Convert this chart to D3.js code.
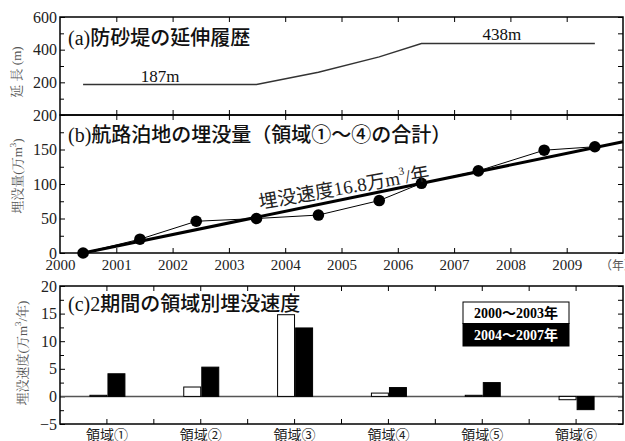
<!DOCTYPE html>
<html>
<head>
<meta charset="utf-8">
<script src="https://cdn.jsdelivr.net/npm/d3@7"></script>
<style>
  html, body { margin: 0; padding: 0; background: #fff; }
  svg { display: block; }
</style>
</head>
<body>
<svg id="chart" width="625" height="441"></svg>
<script>
// ---------------- data ----------------
// (a) breakwater length history
const jettyYears   = [2000.41, 2003.49, 2004.59, 2005.67, 2006.42, 2009.5];
const jettyLength  = [187, 187, 262, 356, 438, 438];
const jettyLabels  = ["187m", "438m"];

// (b) cumulative siltation volume (10^4 m3)
const surveyYears  = [2000.41, 2001.42, 2002.42, 2003.49, 2004.59, 2005.67, 2006.42, 2007.43, 2008.6, 2009.5];
const siltVolume   = [0, 20, 46, 50, 55, 76, 101, 119, 149, 154];
const trendRate    = 16.8;      // 万m3/年
const trendStart   = 2000.41;
const trendEnd     = 2010;

const yearTicks    = [2000, 2001, 2002, 2003, 2004, 2005, 2006, 2007, 2008, 2009];

// (c) siltation rate by area for two periods
const areas        = ["領域①", "領域②", "領域③", "領域④", "領域⑤", "領域⑥"];
const periods      = ["2000～2003年", "2004～2007年"];
const rateP1       = [0.2, 1.7, 14.8, 0.6, 0.2, -0.6];
const rateP2       = [4.1, 5.3, 12.4, 1.6, 2.5, -2.4];

// ---------------- fonts ----------------
const SERIF  = '"Liberation Serif", "Noto Sans CJK JP", serif';
const MINCHO = '"Liberation Serif", "Noto Serif CJK JP", serif';
const GOTH   = '"Noto Sans CJK JP", "Noto Sans", sans-serif';

// ---------------- layout ----------------
const svg = d3.select("#chart");
const L = 60, R = 623;
const A = {top: 17, bottom: 115};
const B = {top: 115, bottom: 253};
const C = {top: 286, bottom: 424};

const x = d3.scaleLinear().domain([2000, 2010]).range([L, R]);
const yA = d3.scaleLinear().domain([0, 600]).range([A.bottom, A.top]);
const yB = d3.scaleLinear().domain([0, 200]).range([B.bottom, B.top]);
const yC = d3.scaleLinear().domain([-5, 20]).range([C.bottom, C.top]);

const TICK = 5, MINOR = 4;

function styleAxis(g, size) {
  g.attr("font-family", null);
  g.select(".domain").remove();
  g.selectAll(".tick line").attr("stroke", "#000").attr("stroke-width", 1);
  g.selectAll("text").style("font-family", SERIF).attr("font-size", size || 15).attr("fill", "#222");
}

function yAxes(y, major, minor, fmt) {
  const gl = svg.append("g").attr("transform", `translate(${L},0)`)
    .call(d3.axisLeft(y).tickValues(major).tickSize(-TICK).tickPadding(3).tickFormat(fmt));
  styleAxis(gl, 16);
  const gm = svg.append("g").attr("transform", `translate(${L},0)`)
    .call(d3.axisLeft(y).tickValues(minor).tickSize(-MINOR).tickFormat(""));
  styleAxis(gm);
  const gr = svg.append("g").attr("transform", `translate(${R},0)`)
    .call(d3.axisRight(y).tickValues(major.concat(minor)).tickSize(-TICK).tickFormat(""));
  styleAxis(gr);
}

function xYearAxes(top, bottom, withLabels) {
  const gt = svg.append("g").attr("transform", `translate(0,${top})`)
    .call(d3.axisTop(x).tickValues(yearTicks.slice(1)).tickSize(-TICK).tickFormat(""));
  styleAxis(gt);
  const gb = svg.append("g").attr("transform", `translate(0,${bottom})`)
    .call(d3.axisBottom(x).tickValues(withLabels ? yearTicks : yearTicks.slice(1))
      .tickSize(-TICK).tickPadding(6).tickFormat(withLabels ? d3.format("d") : ""));
  styleAxis(gb, 15);
  if (withLabels) gb.selectAll(".tick").filter(d => d === 2000).select("line").remove();
}

function txt(family, size, fill) {
  return svg.append("text").style("font-family", family).attr("font-size", size).attr("fill", fill);
}

// ---------------- panel (a) ----------------
yAxes(yA, [200, 400, 600], [100, 300, 500], d3.format("d"));
xYearAxes(A.top, A.bottom, false);

const lineA = d3.line().x((d, i) => x(jettyYears[i])).y(d => yA(d));
svg.append("path").datum(jettyLength).attr("d", lineA)
  .attr("fill", "none").attr("stroke", "#333").attr("stroke-width", 1.4);

txt(SERIF, 17, "#111").attr("x", x(2001.78)).attr("y", yA(jettyLength[0]) - 2)
  .attr("text-anchor", "middle").text(jettyLabels[0]);
txt(SERIF, 17, "#111").attr("x", x(2007.85)).attr("y", yA(jettyLength[4]) - 3)
  .attr("text-anchor", "middle").text(jettyLabels[1]);

txt(SERIF, 20, "#111").attr("font-weight", 500).attr("x", 68).attr("y", 45).text("(a)防砂堤の延伸履歴");

txt(MINCHO, 13, "#555")
  .attr("transform", `translate(21,${(A.top + A.bottom) / 2 + 6}) rotate(-90)`)
  .attr("text-anchor", "middle").text("延 長 (m)");

// ---------------- panel (b) ----------------
yAxes(yB, [0, 50, 100, 150, 200], [25, 75, 125, 175], d3.format("d"));
xYearAxes(B.top, B.bottom, true);

// trend line
svg.append("line")
  .attr("x1", x(trendStart)).attr("y1", yB(0))
  .attr("x2", x(trendEnd)).attr("y2", yB(trendRate * (trendEnd - trendStart)))
  .attr("stroke", "#000").attr("stroke-width", 3);

const lineB = d3.line().x((d, i) => x(surveyYears[i])).y(d => yB(d));
svg.append("path").datum(siltVolume).attr("d", lineB)
  .attr("fill", "none").attr("stroke", "#000").attr("stroke-width", 1);

svg.selectAll("circle.pt").data(siltVolume).enter().append("circle")
  .attr("class", "pt")
  .attr("cx", (d, i) => x(surveyYears[i])).attr("cy", d => yB(d)).attr("r", 5.8)
  .attr("fill", "#000");

// trend label
const tl = txt(SERIF, 19, "#222").attr("transform", `translate(260,209) rotate(-10)`);
tl.append("tspan").text("埋没速度16.8万m");
tl.append("tspan").attr("font-size", 11).attr("dy", -9).text("3");
tl.append("tspan").attr("dy", 9).text("/年");

txt(SERIF, 20, "#111").attr("font-weight", 500).attr("x", 68).attr("y", 142)
  .text("(b)航路泊地の埋没量（領域①～④の合計）");

const lb = txt(MINCHO, 13, "#555")
  .attr("transform", `translate(22,${(B.top + B.bottom) / 2 - 8}) rotate(-90)`)
  .attr("text-anchor", "middle");
lb.append("tspan").text("埋没量(万m");
lb.append("tspan").attr("font-size", 9).attr("dy", -6).text("3");
lb.append("tspan").attr("dy", 6).text(")");

txt(GOTH, 12, "#555").attr("x", 600).attr("y", 270).text("（年）");

// ---------------- panel (c) ----------------
yAxes(yC, [-5, 0, 5, 10, 15, 20], [-2.5, 2.5, 7.5, 12.5, 17.5], d3.format("d"));

const xc = d3.scaleBand().domain(areas).range([L, R]).padding(0);
const xs = d3.scaleBand().domain(periods).range([-17, 18]).paddingInner(0.06);

// category ticks at centers and boundaries
const ctick = areas.map(a => xc(a) + xc.bandwidth() / 2)
  .concat(areas.slice(1).map(a => xc(a)));
[C.top, C.bottom].forEach((yy, k) => {
  svg.append("g").selectAll("line").data(ctick).enter().append("line")
    .attr("x1", d => d).attr("x2", d => d)
    .attr("y1", yy).attr("y2", k === 0 ? yy + TICK : yy - TICK)
    .attr("stroke", "#000").attr("stroke-width", 1);
});

// zero line
svg.append("line").attr("x1", L).attr("x2", R).attr("y1", yC(0)).attr("y2", yC(0))
  .attr("stroke", "#555").attr("stroke-width", 1.5);

const barData = [];
areas.forEach((a, i) => {
  barData.push({area: a, period: periods[0], v: rateP1[i]});
  barData.push({area: a, period: periods[1], v: rateP2[i]});
});
svg.append("g").selectAll("rect").data(barData).enter().append("rect")
  .attr("x", d => xc(d.area) + xc.bandwidth() / 2 + xs(d.period))
  .attr("width", xs.bandwidth())
  .attr("y", d => yC(Math.max(0, d.v)))
  .attr("height", d => Math.abs(yC(d.v) - yC(0)))
  .attr("fill", d => d.period === periods[0] ? "#fff" : "#000")
  .attr("stroke", "#000").attr("stroke-width", 1);

// category labels
const gx = svg.append("g").attr("transform", `translate(0,${C.bottom})`)
  .call(d3.axisBottom(xc).tickSize(0).tickPadding(6));
gx.attr("font-family", null);
gx.select(".domain").remove();
gx.selectAll("text").style("font-family", GOTH).attr("font-size", 14).attr("fill", "#222");

txt(SERIF, 20, "#111").attr("font-weight", 500).attr("x", 68).attr("y", 311).text("(c)2期間の領域別埋没速度");

const lc = txt(MINCHO, 13, "#555")
  .attr("transform", `translate(27,${(C.top + C.bottom) / 2 - 2}) rotate(-90)`)
  .attr("text-anchor", "middle");
lc.append("tspan").text("埋没速度(万m");
lc.append("tspan").attr("font-size", 9).attr("dy", -6).text("3");
lc.append("tspan").attr("dy", 6).text("/年)");

// legend
const lg = svg.append("g").attr("transform", "translate(463,302)");
lg.append("rect").attr("x", 0).attr("y", 0).attr("width", 106).attr("height", 21.5)
  .attr("fill", "#fff").attr("stroke", "#000").attr("stroke-width", 1);
lg.append("rect").attr("x", 0).attr("y", 21.5).attr("width", 106).attr("height", 22.5)
  .attr("fill", "#000").attr("stroke", "#000").attr("stroke-width", 1);
lg.append("text").style("font-family", SERIF).attr("font-weight", "bold").attr("font-size", 14)
  .attr("x", 53).attr("y", 16).attr("text-anchor", "middle").attr("fill", "#000").text(periods[0]);
lg.append("text").style("font-family", SERIF).attr("font-weight", "bold").attr("font-size", 14)
  .attr("x", 53).attr("y", 38).attr("text-anchor", "middle").attr("fill", "#fff").text(periods[1]);

// ---------------- frames ----------------
[A, B, C].forEach(p => {
  svg.append("rect").attr("x", L).attr("y", p.top).attr("width", R - L).attr("height", p.bottom - p.top)
    .attr("fill", "none").attr("stroke", "#000").attr("stroke-width", 1.5);
});
</script>
</body>
</html>
